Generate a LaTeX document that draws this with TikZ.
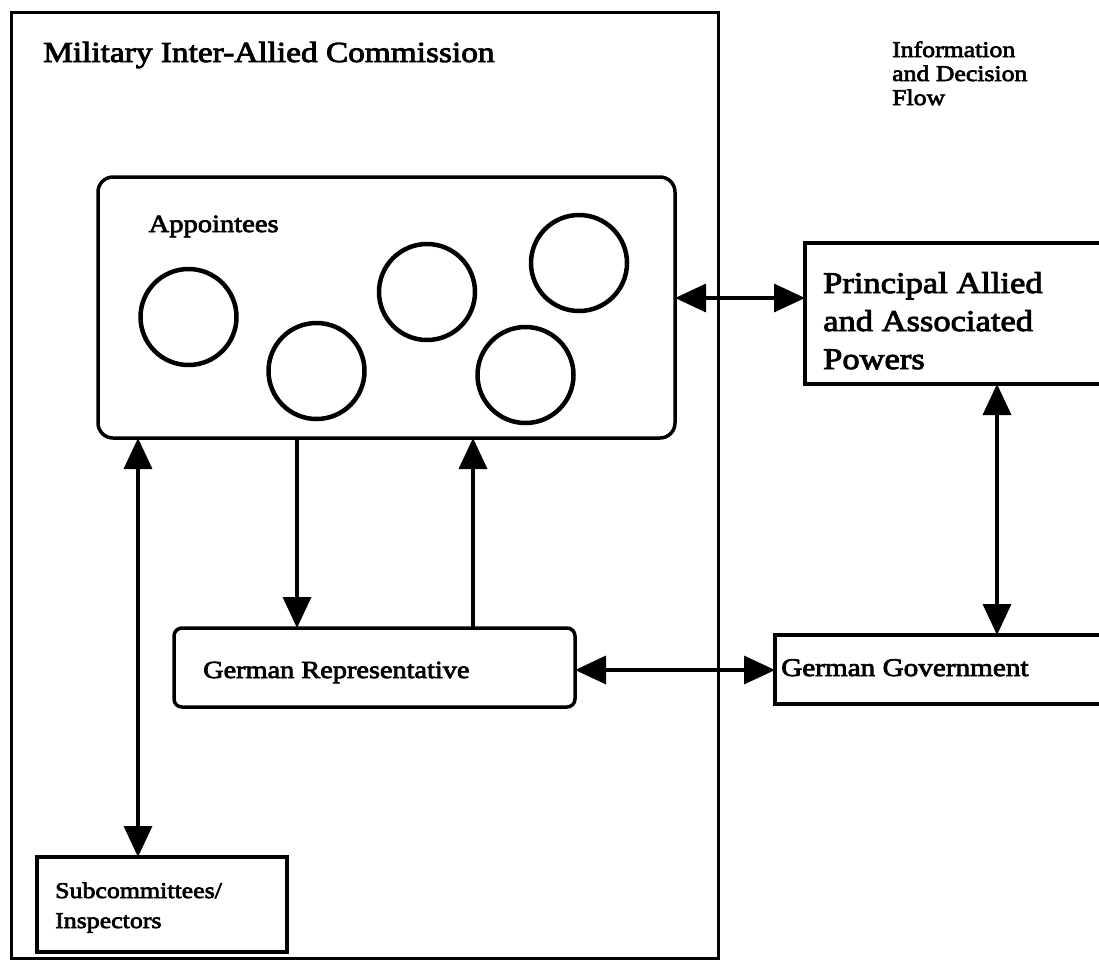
\documentclass[tikz,border=0pt]{standalone}
\usepackage{fontspec}
\setmainfont{Liberation Serif}[FakeStretch=1.15,FakeBold=3]
\usetikzlibrary{arrows.meta}
\newcommand\stacklines[1]{\begin{tabular}[t]{@{}l@{}}#1\end{tabular}}
\newcommand\fs[2]{\fontsize{#1}{#2}\selectfont}
\tikzset{
  box/.style={draw=black, line width=#1, fill=none, inner sep=0pt, outer sep=0pt},
  box/.default=3.5pt,
  member/.style={draw=black, line width=4.5pt, circle, minimum size=96pt, inner sep=0pt},
  txt/.style={anchor=base west, inner sep=0pt, text=black},
  flow/.style={line width=3.5pt, -{Triangle[length=31pt,width=28pt]}},
  dflow/.style={line width=3.5pt, {Triangle[length=31pt,width=28pt]}-{Triangle[length=31pt,width=28pt]}},
}
\begin{document}
\begin{tikzpicture}[x=1pt, y=-1pt]
\clip (0,0) rectangle (1099,967);
\fill[white] (0,0) rectangle (1099,967);

% commission frame and its title
\node[box=3pt, minimum width=707pt, minimum height=946pt] (mic) at (364.5,485) {};
\node[txt, font=\fs{29}{34}] (mictitle) at (43,62) {Military Inter-Allied Commission};

% legend text
\node[txt, font=\fs{22.4}{24}] (legend) at (892,57) {\stacklines{Information\\and Decision\\Flow}};

% appointees panel
\node[box, rounded corners=15pt, minimum width=577pt, minimum height=261pt] (app) at (386.5,307.5) {};
\node[txt, font=\fs{24.8}{30}] (apptitle) at (148.5,232) {Appointees};
\node[member] (m1) at (188.5,317) {};
\node[member] (m2) at (316.5,371) {};
\node[member] (m3) at (427,292) {};
\node[member] (m4) at (525.5,375) {};
\node[member] (m5) at (579,263) {};

% outside powers and governments
\node[box, minimum width=305pt, minimum height=141pt] (pri) at (957.5,313.5) {};
\node[txt, font=\fs{30}{38}] (pritext) at (823,293) {\stacklines{Principal Allied\\and Associated\\Powers}};

\node[box=4pt, minimum width=335pt, minimum height=69pt] (gov) at (942.5,669.5) {};
\node[txt, font=\fs{25.4}{30}] (govtext) at (781,676) {German Government};

\node[box, rounded corners=8pt, minimum width=401pt, minimum height=79pt] (rep) at (374.5,667.5) {};
\node[txt, font=\fs{24.6}{30}] (reptext) at (203,678) {German Representative};

\node[box=4pt, minimum width=250pt, minimum height=95pt] (sub) at (162,904.5) {};
\node[txt, font=\fs{22.5}{30}] (subtext) at (55,898) {\stacklines{Subcommittees/\\Inspectors}};

% lanes of the connectors
\coordinate (xs) at (138,0);
\coordinate (xd) at (297,0);
\coordinate (xu) at (473,0);
\coordinate (xv) at (997,0);
\coordinate (ya) at (0,298);
\coordinate (yh) at (0,670);

% information and decision flow
\draw[dflow] (app.east |- ya) -- (pri.west |- ya);
\draw[dflow] (pri.south -| xv) -- (gov.north -| xv);
\draw[dflow] (rep.east |- yh) -- (gov.west |- yh);
\draw[dflow] (app.south -| xs) -- (sub.north -| xs);
\draw[flow] (app.south -| xd) -- (rep.north -| xd);
\draw[flow] (rep.north -| xu) -- (app.south -| xu);
\end{tikzpicture}
\end{document}
